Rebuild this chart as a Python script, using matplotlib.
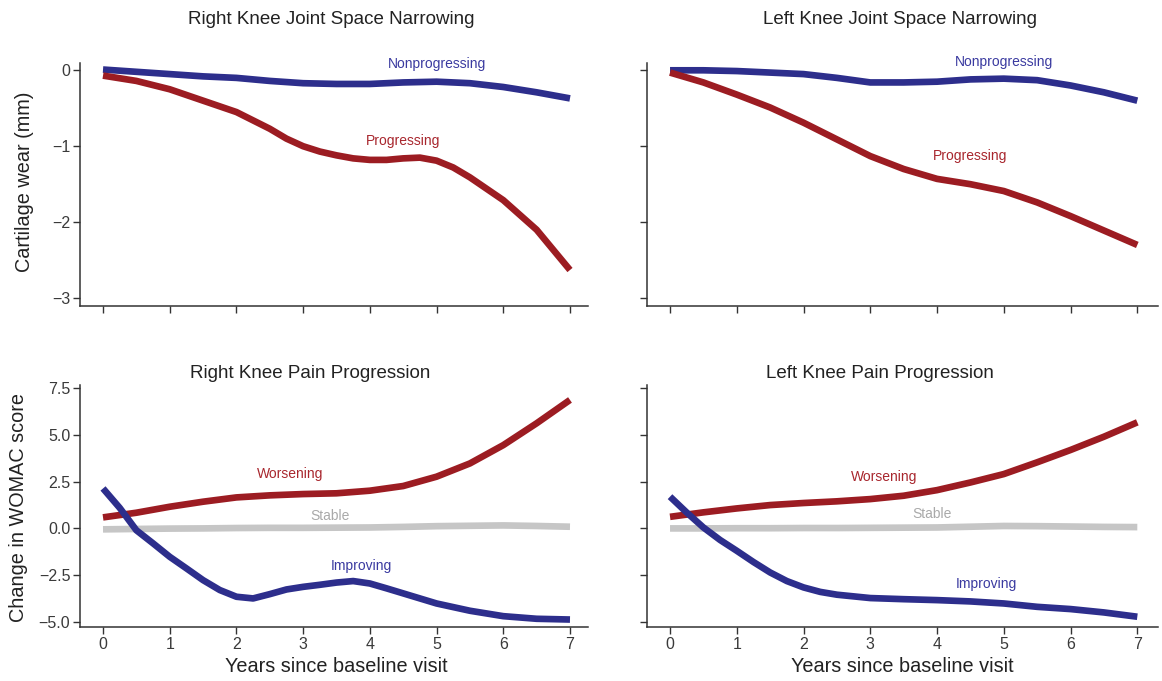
import matplotlib
matplotlib.use('Agg')
import matplotlib.pyplot as plt

plt.rcParams['font.family'] = ['Liberation Sans', 'DejaVu Sans']

# years since baseline
years = [0, 0.5, 1, 1.5, 2, 2.5, 3, 3.5, 4, 4.5, 5, 5.5, 6, 6.5, 7]

# cartilage wear (mm)
right_nonprog = [0.01, -0.02, -0.05, -0.08, -0.10, -0.14, -0.17, -0.18, -0.18, -0.16, -0.15, -0.17, -0.22, -0.29, -0.37]
years_r_prog = [0, 0.5, 1, 1.5, 2, 2.5, 2.75, 3, 3.25, 3.5, 3.75, 4, 4.25, 4.5, 4.75, 5, 5.25, 5.5, 6, 6.5, 7]
right_prog = [-0.07, -0.14, -0.25, -0.40, -0.55, -0.77, -0.90, -1.00, -1.07, -1.12, -1.16, -1.18, -1.18,
              -1.16, -1.15, -1.19, -1.28, -1.41, -1.71, -2.10, -2.63]
left_nonprog = [0.00, 0.00, -0.01, -0.03, -0.05, -0.10, -0.16, -0.16, -0.15, -0.12, -0.11, -0.13, -0.20, -0.29, -0.40]
left_prog = [-0.03, -0.16, -0.32, -0.49, -0.69, -0.91, -1.13, -1.30, -1.43, -1.50, -1.59, -1.74, -1.92, -2.11, -2.30]

# change in WOMAC score
right_worse = [0.59, 0.84, 1.16, 1.43, 1.66, 1.77, 1.84, 1.88, 2.02, 2.27, 2.77, 3.48, 4.46, 5.63, 6.88]
right_stable = [-0.05, -0.03, -0.01, 0.00, 0.02, 0.03, 0.03, 0.04, 0.05, 0.08, 0.12, 0.14, 0.16, 0.13, 0.09]
years_r_imp = [0, 0.25, 0.5, 0.75, 1, 1.25, 1.5, 1.75, 2, 2.25, 2.5, 2.75, 3, 3.25, 3.5, 3.75, 4,
               4.25, 4.5, 5, 5.5, 6, 6.5, 7]
right_imp = [2.14, 1.10, -0.10, -0.80, -1.52, -2.14, -2.77, -3.30, -3.66, -3.75, -3.52, -3.27, -3.13,
             -3.02, -2.90, -2.82, -2.95, -3.21, -3.48, -4.02, -4.41, -4.70, -4.84, -4.88]

left_worse = [0.62, 0.86, 1.07, 1.25, 1.36, 1.45, 1.57, 1.75, 2.05, 2.46, 2.91, 3.54, 4.20, 4.91, 5.68]
left_stable = [0.00, 0.00, 0.01, 0.01, 0.02, 0.02, 0.03, 0.04, 0.05, 0.09, 0.13, 0.12, 0.10, 0.08, 0.07]
years_l_imp = [0, 0.25, 0.5, 0.75, 1, 1.25, 1.5, 1.75, 2, 2.25, 2.5, 3, 3.5, 4, 4.5, 5, 5.5, 6, 6.5, 7]
left_imp = [1.70, 0.85, 0.05, -0.62, -1.20, -1.80, -2.36, -2.82, -3.16, -3.40, -3.55, -3.73, -3.79,
            -3.84, -3.91, -4.02, -4.20, -4.32, -4.50, -4.73]

RED = '#9c1c22'
BLUE = '#2d2e8c'
GRAY = '#c6c6c6'
RED_TXT = '#a8262d'
BLUE_TXT = '#3a3aa0'
GRAY_TXT = '#a9a9a9'

W, H = 1162, 681
fig = plt.figure(figsize=(W / 100, H / 100), dpi=100)


def px_axes(x0, y0, x1, y1):
    # pixel box (left, top, right, bottom) -> figure fraction
    return fig.add_axes([x0 / W, 1 - y1 / H, (x1 - x0) / W, (y1 - y0) / H])


def style(ax, xlim, ylim, yticks, ylabels, show_x, show_y):
    ax.set_xlim(xlim)
    ax.set_ylim(ylim)
    for s in ['top', 'right']:
        ax.spines[s].set_visible(False)
    for s in ['left', 'bottom']:
        ax.spines[s].set_color('#333333')
        ax.spines[s].set_linewidth(1.1)
    ax.set_xticks(range(8))
    ax.set_xticklabels([str(i) for i in range(8)] if show_x else [])
    ax.set_yticks(yticks)
    ax.set_yticklabels(ylabels if show_y else [])
    ax.tick_params(length=5, width=1.0, color='#333333', labelsize=11.5,
                   labelcolor='#3a3a3a', pad=2)


def line(ax, x, y, color):
    ax.plot(x, y, color=color, lw=4.8, solid_capstyle='butt', solid_joinstyle='round')


top_ticks = [0, -1, -2, -3]
top_labels = ['0', '\u22121', '\u22122', '\u22123']
bot_ticks = [7.5, 5.0, 2.5, 0.0, -2.5, -5.0]
bot_labels = ['7.5', '5.0', '2.5', '0.0', '\u22122.5', '\u22125.0']

ax1 = px_axes(80, 62.7, 588, 305.7)
ax2 = px_axes(647, 62.7, 1158, 305.7)
ax3 = px_axes(80, 385, 588, 627)
ax4 = px_axes(647, 385, 1158, 627)

style(ax1, (-0.345, 7.27), (-3.1, 0.1), top_ticks, top_labels, False, True)
style(ax2, (-0.345, 7.31), (-3.1, 0.1), top_ticks, top_labels, False, False)
style(ax3, (-0.345, 7.27), (-5.28, 7.68), bot_ticks, bot_labels, True, True)
style(ax4, (-0.345, 7.31), (-5.28, 7.68), bot_ticks, bot_labels, True, False)

# top panels
line(ax1, years, right_nonprog, BLUE)
line(ax1, years_r_prog, right_prog, RED)
ax1.text(5.0, 0.08, 'Nonprogressing', color=BLUE_TXT, fontsize=10, ha='center', va='center')
ax1.text(4.5, -0.93, 'Progressing', color=RED_TXT, fontsize=10, ha='center', va='center')

line(ax2, years, left_nonprog, BLUE)
line(ax2, years, left_prog, RED)
ax2.text(5.0, 0.11, 'Nonprogressing', color=BLUE_TXT, fontsize=10, ha='center', va='center')
ax2.text(4.5, -1.13, 'Progressing', color=RED_TXT, fontsize=10, ha='center', va='center')

# bottom panels
line(ax3, years, right_stable, GRAY)
line(ax3, years, right_worse, RED)
line(ax3, years_r_imp, right_imp, BLUE)
ax3.text(2.8, 2.9, 'Worsening', color=RED_TXT, fontsize=10, ha='center', va='center')
ax3.text(3.4, 0.67, 'Stable', color=GRAY_TXT, fontsize=10, ha='center', va='center')
ax3.text(3.87, -2.02, 'Improving', color=BLUE_TXT, fontsize=10, ha='center', va='center')

line(ax4, years, left_stable, GRAY)
line(ax4, years, left_worse, RED)
line(ax4, years_l_imp, left_imp, BLUE)
ax4.text(3.21, 2.75, 'Worsening', color=RED_TXT, fontsize=10, ha='center', va='center')
ax4.text(3.92, 0.76, 'Stable', color=GRAY_TXT, fontsize=10, ha='center', va='center')
ax4.text(4.74, -3.0, 'Improving', color=BLUE_TXT, fontsize=10, ha='center', va='center')

# titles (left aligned, as in the original layout)
title_kw = dict(fontsize=13.5, color='#222222', ha='left', va='center')
fig.text(188 / W, 1 - 20 / H, 'Right Knee Joint Space Narrowing', **title_kw)
fig.text(763 / W, 1 - 20 / H, 'Left Knee Joint Space Narrowing', **title_kw)
fig.text(190 / W, 1 - 373 / H, 'Right Knee Pain Progression', **title_kw)
fig.text(766 / W, 1 - 373 / H, 'Left Knee Pain Progression', **title_kw)

# axis labels
lab_kw = dict(fontsize=14.3, color='#222222', ha='center', va='center')
fig.text(25 / W, 1 - 182 / H, 'Cartilage wear (mm)', rotation=90, **lab_kw)
fig.text(19 / W, 1 - 507 / H, 'Change in WOMAC score', rotation=90, **lab_kw)
fig.text(336 / W, 1 - 666 / H, 'Years since baseline visit', **lab_kw)
fig.text(902 / W, 1 - 666 / H, 'Years since baseline visit', **lab_kw)

fig.savefig('out.png', dpi=100)
